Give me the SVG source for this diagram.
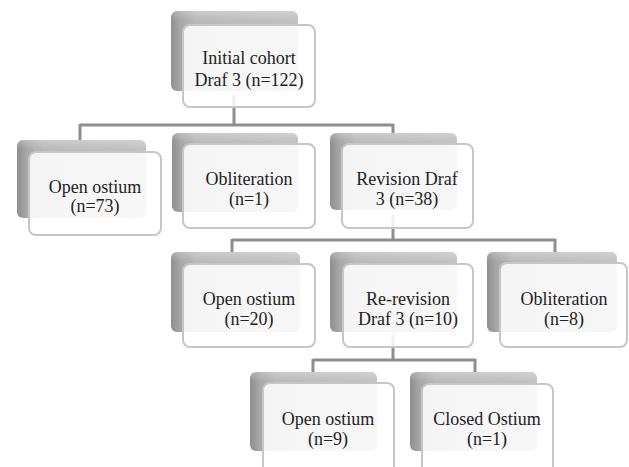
<svg xmlns="http://www.w3.org/2000/svg" width="629" height="467" viewBox="0 0 629 467">
<defs>
<linearGradient id="sg" x1="0" y1="0" x2="1" y2="0">
<stop offset="0" stop-color="#8f8f8f"/>
<stop offset="0.08" stop-color="#a8a8a8"/>
<stop offset="0.2" stop-color="#b9b9b9"/>
<stop offset="1" stop-color="#c2c2c2"/>
</linearGradient>
<linearGradient id="sgv" x1="0" y1="0" x2="0" y2="1">
<stop offset="0" stop-color="#ffffff" stop-opacity="0.25"/>
<stop offset="0.12" stop-color="#ffffff" stop-opacity="0"/>
<stop offset="1" stop-color="#000000" stop-opacity="0"/>
</linearGradient>
</defs>
<style>
.bg{fill:#ffffff}
.sh{fill:url(#sg)}
.shv{fill:url(#sgv)}
.fr{fill:#ffffff;fill-opacity:0.86;stroke:#c6c6c6;stroke-width:2}
.t{font-family:"Liberation Serif","Times New Roman",serif;font-size:18px;fill:#222222;text-anchor:middle}
.c{fill:none;stroke:#8e8e8e;stroke-width:3}
</style>
<rect class="bg" x="0" y="0" width="629" height="467"/>
<g id="connectors">
<path class="c" d="M234,95 V125 M80,125 H394 M80,124 V142 M393,124 V136"/>
<path class="c" d="M393,215 V240 M232,240 H556 M232,239 V256 M555,239 V256"/>
<path class="c" d="M393,335 V360 M313,360 H476 M313,359 V375 M475,359 V375"/>
</g>
<g id="n0">
<rect class="sh" x="171" y="11" width="127" height="80" rx="6"/>
<rect class="shv" x="171" y="11" width="127" height="80" rx="6"/>
<rect class="fr" x="183" y="25" width="132" height="82" rx="7"/>
<text class="t" x="249" y="64">Initial cohort</text>
<text class="t" x="249" y="86">Draf 3 (n=122)</text>
</g>
<g id="n1">
<rect class="sh" x="17" y="140" width="129" height="78" rx="6"/>
<rect class="shv" x="17" y="140" width="129" height="78" rx="6"/>
<rect class="fr" x="29" y="152" width="132" height="83" rx="7"/>
<text class="t" x="95" y="193">Open ostium</text>
<text class="t" x="95" y="212">(n=73)</text>
</g>
<g id="n2">
<rect class="sh" x="172" y="133" width="126" height="79" rx="6"/>
<rect class="shv" x="172" y="133" width="126" height="79" rx="6"/>
<rect class="fr" x="183" y="144" width="132" height="84" rx="7"/>
<text class="t" x="249" y="185">Obliteration</text>
<text class="t" x="249" y="205">(n=1)</text>
</g>
<g id="n3">
<rect class="sh" x="330" y="133" width="127" height="77" rx="6"/>
<rect class="shv" x="330" y="133" width="127" height="77" rx="6"/>
<rect class="fr" x="342" y="144" width="131" height="84" rx="7"/>
<text class="t" x="407" y="185">Revision Draf</text>
<text class="t" x="407" y="205">3 (n=38)</text>
</g>
<g id="n4">
<rect class="sh" x="171" y="252" width="129" height="80" rx="6"/>
<rect class="shv" x="171" y="252" width="129" height="80" rx="6"/>
<rect class="fr" x="183" y="264" width="132" height="83" rx="7"/>
<text class="t" x="249" y="305">Open ostium</text>
<text class="t" x="249" y="325">(n=20)</text>
</g>
<g id="n5">
<rect class="sh" x="330" y="252" width="127" height="80" rx="6"/>
<rect class="shv" x="330" y="252" width="127" height="80" rx="6"/>
<rect class="fr" x="343" y="264" width="130" height="83" rx="7"/>
<text class="t" x="408" y="305">Re-revision</text>
<text class="t" x="408" y="325">Draf 3 (n=10)</text>
</g>
<g id="n6">
<rect class="sh" x="487" y="252" width="130" height="80" rx="6"/>
<rect class="shv" x="487" y="252" width="130" height="80" rx="6"/>
<rect class="fr" x="500" y="263" width="127" height="84" rx="7"/>
<text class="t" x="564" y="305">Obliteration</text>
<text class="t" x="564" y="325">(n=8)</text>
</g>
<g id="n7">
<rect class="sh" x="250" y="372" width="127" height="79" rx="6"/>
<rect class="shv" x="250" y="372" width="127" height="79" rx="6"/>
<rect class="fr" x="263" y="383" width="131" height="92" rx="7"/>
<text class="t" x="328" y="425">Open ostium</text>
<text class="t" x="328" y="445">(n=9)</text>
</g>
<g id="n8">
<rect class="sh" x="410" y="372" width="127" height="79" rx="6"/>
<rect class="shv" x="410" y="372" width="127" height="79" rx="6"/>
<rect class="fr" x="422" y="384" width="131" height="92" rx="7"/>
<text class="t" x="487" y="425">Closed Ostium</text>
<text class="t" x="487" y="445">(n=1)</text>
</g>
</svg>
